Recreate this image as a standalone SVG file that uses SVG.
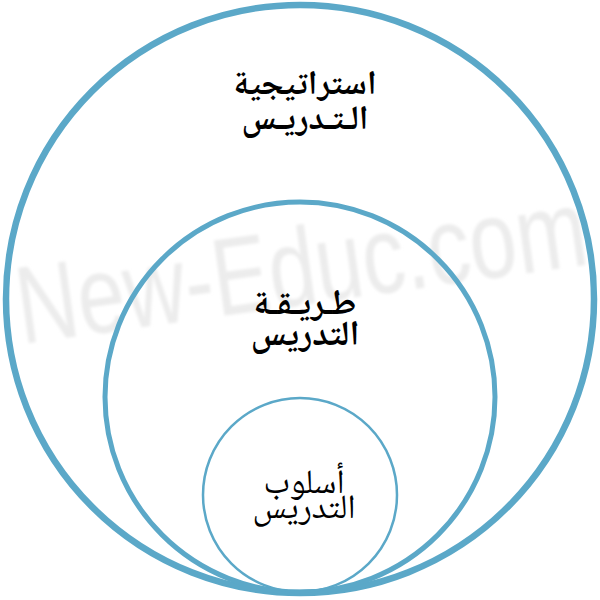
<svg xmlns="http://www.w3.org/2000/svg" width="600" height="600" viewBox="0 0 600 600">
<defs>
<style>
.ring{fill:none;stroke:#5ba8c8}
.lbl{font-family:'Noto Naskh Arabic','Noto Sans Arabic','DejaVu Sans',sans-serif;fill:#000;text-anchor:middle}
.wm{font-family:'Liberation Sans',Arial,sans-serif;fill:#ececec;font-size:110px}
</style>
<filter id="blur" x="-10%" y="-10%" width="120%" height="120%"><feGaussianBlur stdDeviation="1.5"/></filter>
</defs>
<rect width="600" height="600" fill="#fff"/>
<g id="watermark" filter="url(#blur)">
<text class="wm" transform="translate(22,344) rotate(-8) scale(0.77,1)">New-Educ.com</text>
</g>
<g id="node-strategy">
<circle class="ring" cx="300" cy="299" r="294" stroke-width="6.5"/>
<text class="lbl" x="305" y="94" font-size="34" font-weight="bold">استراتيجية</text>
<text class="lbl" x="305" y="129" font-size="34" font-weight="bold">الـتـدريـس</text>
</g>
<g id="node-method">
<circle class="ring" cx="300" cy="397" r="195" stroke-width="5"/>
<text class="lbl" x="305" y="314" font-size="35" font-weight="bold">طـريـقـة</text>
<text class="lbl" x="305" y="345" font-size="35" font-weight="bold">التدريس</text>
</g>
<g id="node-style">
<circle class="ring" cx="300" cy="495" r="97" stroke-width="2.5"/>
<text class="lbl" x="304" y="493" font-size="34">أسلوب</text>
<text class="lbl" x="304" y="518" font-size="34">التدريس</text>
</g>
<g id="connectors"/>
</svg>
